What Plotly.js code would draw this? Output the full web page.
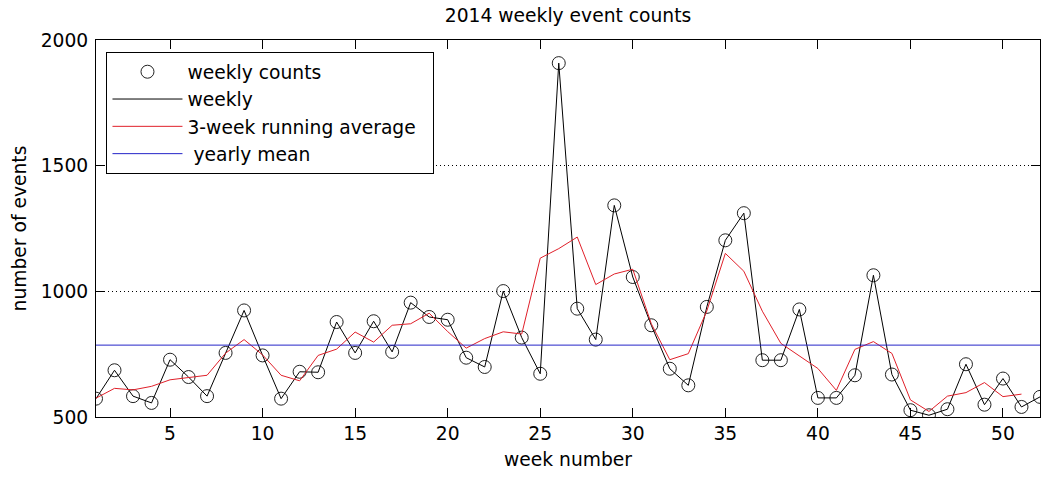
<!DOCTYPE html>
<html>
<head>
<meta charset="utf-8">
<script src="https://cdn.plot.ly/plotly-3.0.1.min.js"></script>
<style>
  html, body { margin: 0; padding: 0; background: #fff; }
  #chart { width: 1043px; height: 477px; }
</style>
</head>
<body>
<div id="chart"></div>
<script>
// Week numbers 1..52
const weeks = [1,2,3,4,5,6,7,8,9,10,11,12,13,14,15,16,17,18,19,20,21,22,23,24,25,26,
               27,28,29,30,31,32,33,34,35,36,37,38,39,40,41,42,43,44,45,46,47,48,49,50,51,52];

// Number of events counted in each week of 2014
const weeklyCounts = [573,686,583,556,728,659,583,755,924,745,573,680,678,878,755,881,759,955,898,887,
                      736,699,1001,816,672,1908,931,808,1342,1057,865,692,626,938,1203,1311,726,726,928,576,
                      576,666,1064,669,527,507,531,710,549,653,540,580];

// 3-week running average, weeks 1..51
const avgWeeks = [1,2,3,4,5,6,7,8,9,10,11,12,13,14,15,16,17,18,19,20,21,22,23,24,25,26,
                  27,28,29,30,31,32,33,34,35,36,37,38,39,40,41,42,43,44,45,46,47,48,49,50,51];
const runningAvg = [575,614,608,622,648,657,666,754,808,747,666,644,745,770,838,798,865,871,913,840,
                    774,812,839,830,1132,1170,1216,1027,1069,1088,871,728,752,922,1151,1080,921,793,743,693,
                    606,769,800,753,568,522,583,597,637,581,591];

// Mean of the year's weekly counts
const meanWeeks = [1, 52];
const yearlyMean = [786, 786];

// Axis ticks
const xTicks = [5,10,15,20,25,30,35,40,45,50];
const yTicks = [500,1000,1500,2000];

// Legend labels
const legendLabels = ['weekly counts', 'weekly', '3-week running average\u00a0\u00a0', '\u00a0yearly mean'];

const FONT = 'DejaVu Sans, Arial, sans-serif';
const FS = 18.7;

const traces = [
  {
    x: weeks, y: weeklyCounts, type: 'scatter', mode: 'markers', name: legendLabels[0],
    legendgroup: 'a',
    marker: { symbol: 'circle-open', size: 13, color: '#222', line: { width: 1, color: '#222' } }
  },
  {
    x: weeks, y: weeklyCounts, type: 'scatter', mode: 'lines', name: legendLabels[1],
    legendgroup: 'b',
    line: { color: '#000', width: 1 }
  },
  {
    x: avgWeeks, y: runningAvg, type: 'scatter', mode: 'lines', name: legendLabels[2],
    legendgroup: 'c',
    line: { color: '#e0202a', width: 1 }
  },
  {
    x: meanWeeks, y: yearlyMean, type: 'scatter', mode: 'lines', name: legendLabels[3],
    legendgroup: 'd',
    line: { color: '#2424c8', width: 1 }
  }
];

const layout = {
  width: 1043, height: 477,
  paper_bgcolor: '#fff', plot_bgcolor: '#fff',
  margin: { l: 96, r: 3, t: 40, b: 60, pad: 0 },
  font: { family: FONT, size: FS, color: '#000' },
  title: {
    text: '2014 weekly event counts',
    font: { family: FONT, size: FS, color: '#000' },
    x: 0.5, xref: 'paper', xanchor: 'center',
    y: 0.968, yref: 'container', yanchor: 'middle'
  },
  xaxis: {
    range: [1, 52], tickvals: xTicks, ticktext: xTicks.map(String),
    ticks: 'inside', ticklen: 9, tickcolor: '#000', tickwidth: 1,
    showline: true, linecolor: '#000', linewidth: 1, mirror: 'ticks',
    showgrid: false, zeroline: false,
    tickfont: { family: FONT, size: FS, color: '#000' },
    title: { text: 'week number', font: { family: FONT, size: FS, color: '#000' }, standoff: 9 }
  },
  yaxis: {
    range: [500, 2000], tickvals: yTicks, ticktext: yTicks.map(String),
    ticks: 'inside', ticklen: 9, tickcolor: '#000', tickwidth: 1,
    showline: true, linecolor: '#000', linewidth: 1, mirror: 'ticks',
    showgrid: true, gridcolor: '#000', gridwidth: 1, griddash: '1px,3px',
    zeroline: false, ticklabelstandoff: 3,
    tickfont: { family: FONT, size: FS, color: '#000' },
    title: { text: 'number of events', font: { family: FONT, size: FS, color: '#000' }, standoff: 9 }
  },
  showlegend: true,
  legend: {
    x: 0.0111, xanchor: 'left', y: 0.968, yanchor: 'top',
    bgcolor: '#fff', bordercolor: '#000', borderwidth: 1,
    font: { family: FONT, size: FS, color: '#000' },
    itemwidth: 70, traceorder: 'grouped', tracegroupgap: 0
  }
};

Plotly.newPlot('chart', traces, layout, { staticPlot: true, displayModeBar: false });
</script>
</body>
</html>
